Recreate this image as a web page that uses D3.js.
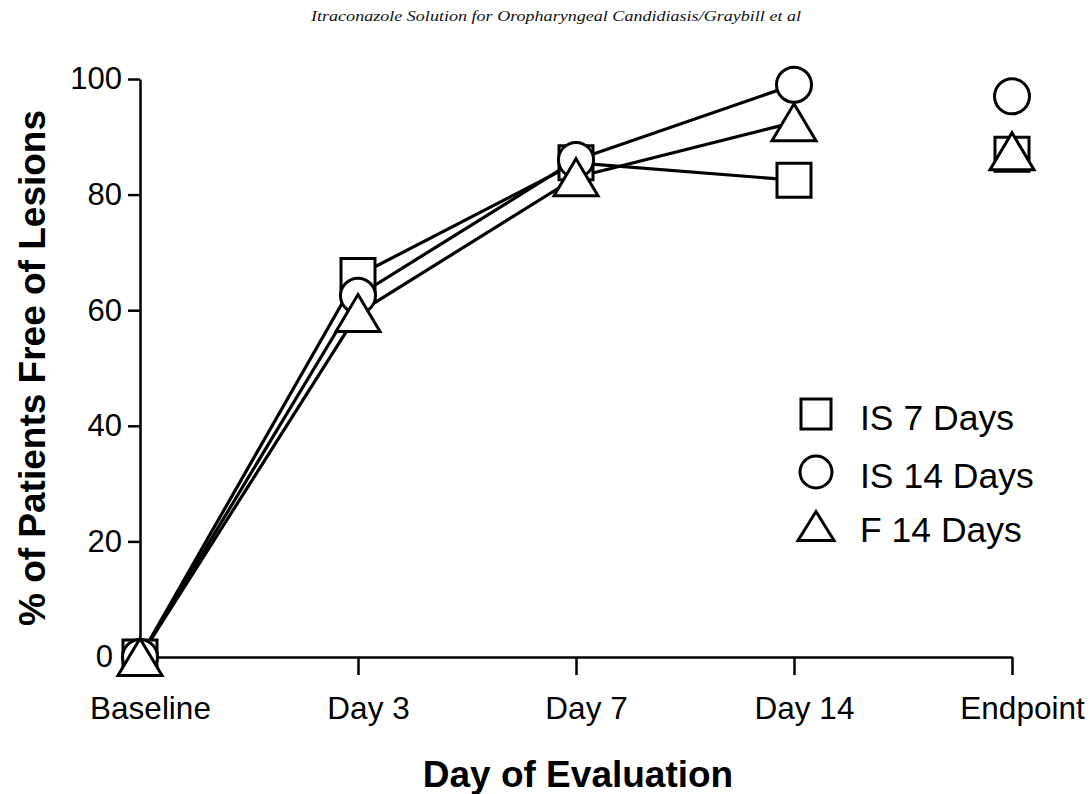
<!DOCTYPE html>
<html>
<head>
<meta charset="utf-8">
<script src="https://cdn.jsdelivr.net/npm/d3@7"></script>
<style>
  html, body { margin: 0; padding: 0; background: #fff; }
  svg { display: block; }
</style>
</head>
<body>
<svg id="chart" width="1091" height="794"></svg>
<script>
// Evaluation days along the x axis
const categories = ["Baseline", "Day 3", "Day 7", "Day 14", "Endpoint"];
// Percentage of patients free of lesions per group (last value = endpoint)
const is7Days  = [0, 66, 85.5, 82.5, 87];
const is14Days = [0, 62.5, 86, 99, 97];
const f14Days  = [0, 59.5, 83, 92.5, 87.5];
const yTicks = [0, 20, 40, 60, 80, 100];
const seriesNames = ["IS 7 Days", "IS 14 Days", "F 14 Days"];
const headerText = "Itraconazole Solution for Oropharyngeal Candidiasis/Graybill et al";

const svg = d3.select("#chart");
const font = "'Liberation Sans', Arial, Helvetica, sans-serif";

const x = d3.scalePoint().domain(categories).range([140, 1012]);
const y = d3.scaleLinear().domain([0, 100]).range([657, 79]);

// running header
svg.append("text")
  .attr("x", 556).attr("y", 21)
  .attr("text-anchor", "middle")
  .attr("font-family", "'Liberation Serif', 'DejaVu Serif', serif")
  .attr("font-style", "italic")
  .attr("font-size", 14)
  .attr("textLength", 490)
  .attr("lengthAdjust", "spacingAndGlyphs")
  .attr("fill", "#111")
  .text(headerText);

// y axis
const yAxis = svg.append("g")
  .attr("transform", "translate(140,0)")
  .call(d3.axisLeft(y).tickValues(yTicks).tickSize(12).tickSizeOuter(0).tickPadding(6));
yAxis.select(".domain").attr("stroke", "#000").attr("stroke-width", 2.5);
yAxis.selectAll(".tick line").attr("stroke", "#000").attr("stroke-width", 2.5);
yAxis.selectAll(".tick text")
  .attr("font-family", font).attr("font-size", 31).attr("fill", "#000")
  .attr("dx", d => d === 0 ? -9 : 0);

// x axis
const xAxis = svg.append("g")
  .attr("transform", "translate(0,657)")
  .call(d3.axisBottom(x).tickSize(18).tickSizeOuter(0));
xAxis.select(".domain").attr("stroke", "#000").attr("stroke-width", 2.5);
xAxis.selectAll(".tick line").attr("stroke", "#000").attr("stroke-width", 2.5);
xAxis.selectAll(".tick text")
  .attr("font-family", font).attr("font-size", 31.5).attr("fill", "#000")
  .attr("y", 62).attr("dy", 0).attr("dx", 10);

// axis titles
svg.append("text")
  .attr("transform", "translate(45,368) rotate(-90)")
  .attr("text-anchor", "middle")
  .attr("font-family", font).attr("font-weight", "bold").attr("font-size", 37)
  .text("% of Patients Free of Lesions");

svg.append("text")
  .attr("x", 578).attr("y", 787)
  .attr("text-anchor", "middle")
  .attr("font-family", font).attr("font-weight", "bold").attr("font-size", 37)
  .text("Day of Evaluation");

// marker shapes
const SQ = 34, CR = 17.5, TW = 44, TH = 37;
function squarePath(s) { const h = s / 2; return `M${-h},${-h}H${h}V${h}H${-h}Z`; }
function trianglePath(w, h) { return `M0,${-h / 2}L${w / 2},${h / 2}L${-w / 2},${h / 2}Z`; }

const series = [
  { name: seriesNames[0], values: is7Days, shape: "square" },
  { name: seriesNames[1], values: is14Days, shape: "circle" },
  { name: seriesNames[2], values: f14Days, shape: "triangle" }
];

const line = d3.line().x(d => x(d.c)).y(d => y(d.v));

// connecting lines (through Day 14; endpoint stands alone)
const lineLayer = svg.append("g");
series.forEach(s => {
  const pts = s.values.slice(0, 4).map((v, i) => ({ c: categories[i], v }));
  lineLayer.append("path")
    .attr("d", line(pts))
    .attr("fill", "none").attr("stroke", "#000").attr("stroke-width", 3.2)
    .attr("stroke-linejoin", "round");
});

function drawMarker(g, shape) {
  let el;
  if (shape === "circle") el = g.append("circle").attr("r", CR);
  else if (shape === "square") el = g.append("path").attr("d", squarePath(SQ));
  else el = g.append("path").attr("d", trianglePath(TW, TH));
  el.attr("fill", "#fff").attr("stroke", "#000").attr("stroke-width", 3)
    .attr("stroke-linejoin", "miter");
  return el;
}

const markerLayer = svg.append("g");
series.forEach(s => {
  s.values.forEach((v, i) => {
    const g = markerLayer.append("g")
      .attr("transform", `translate(${x(categories[i])},${y(v)})`);
    drawMarker(g, s.shape);
  });
});

// legend
const legend = svg.append("g");
const legendY = [414, 472, 526];
const legendSizes = { square: 30, circle: 16, triangle: [36, 29] };
series.forEach((s, i) => {
  const g = legend.append("g").attr("transform", `translate(816,${legendY[i]})`);
  let el;
  if (s.shape === "square") el = g.append("path").attr("d", squarePath(legendSizes.square));
  else if (s.shape === "circle") el = g.append("circle").attr("r", legendSizes.circle);
  else el = g.append("path").attr("d", trianglePath(legendSizes.triangle[0], legendSizes.triangle[1]));
  el.attr("fill", "#fff").attr("stroke", "#000").attr("stroke-width", 3);
  legend.append("text")
    .attr("x", 860).attr("y", legendY[i] + 16)
    .attr("font-family", font).attr("font-size", 35.5).attr("fill", "#000")
    .text(s.name);
});
</script>
</body>
</html>
